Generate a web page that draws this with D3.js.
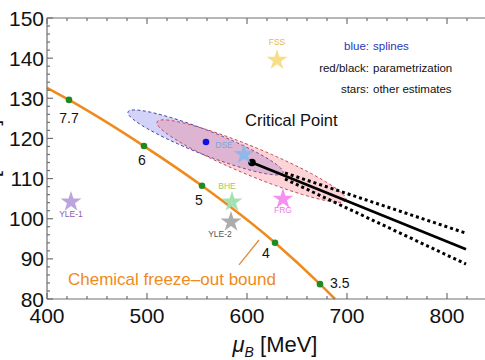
<!DOCTYPE html>
<html>
<head>
<meta charset="utf-8">
<script src="https://cdn.jsdelivr.net/npm/d3@7"></script>
<style>
  body { margin: 0; background: #fff; }
  svg { display: block; }
  text { font-family: 'Liberation Sans', Arial, sans-serif; }
</style>
</head>
<body>
<div id="chart"></div>
<script>
// chemical freeze-out curve (muB, T) and the sqrt(s) points on it
const freezeOut = [[400, 132.6], [422, 129.6], [497, 118.1], [555, 108.2], [628, 94.0], [673, 83.7], [688, 80.0]]
const energyPoints = [[422, 129.6], [497, 118.1], [555, 108.2], [628, 94.0], [673, 83.7]]
const energyLabels = ['7.7', '6', '5', '4', '3.5']

// critical point estimates
const splineCP = [559, 119.1]
const paramCP = [605, 114.0]
// ellipses: two ends of the major axis and the half width (MeV in T)
const splineEllipse = { ends: [[481, 126.6], [636, 111.4]], halfWidth: 3.0 }
const paramEllipse = { ends: [[510, 124.1], [699, 104.6]], halfWidth: 3.5 }

// first order line and its band
const transitionLine = [[605, 114.0], [819, 92.4]]
const bandUpper = [[638, 111.4], [819, 96.4]]
const bandLower = [[638, 109.9], [819, 88.7]]

// other estimates (stars)
const starNames = ['FSS', 'DSE', 'BHE', 'YLE-2', 'FRG', 'YLE-1']
const starMu = [630, 597, 585, 584, 636, 424]
const starT = [139.5, 116.0, 104.2, 99.2, 104.9, 104.2]
const starColors = ['#f7dc82', '#8bb8ec', '#9fe0b0', '#a8a8a8', '#f48cf0', '#b8a0dc']
const starTextColors = ['#e6b84a', '#7aa8dc', '#9ccc6a', '#555555', '#ec7ce0', '#8a5cb0']

const xTicks = [400, 500, 600, 700, 800]
const yTicks = [80, 90, 100, 110, 120, 130, 140, 150]

const width = 485
const height = 360
const margin = { left: 47, top: 18, bottom: 61 }

const svg = d3.select('#chart').append('svg')
  .attr('width', width)
  .attr('height', height)

const x = d3.scaleLinear().domain([400, 840]).range([margin.left, margin.left + 440])
const y = d3.scaleLinear().domain([80, 150]).range([height - margin.bottom, margin.top])

/**
 * Builds the outline of an ellipse given in data space.
 *
 * @param {object} e The ellipse description
 * @returns {number[][]} The outline in pixels
 */
function ellipsePoints (e) {
  const p1 = [x(e.ends[0][0]), y(e.ends[0][1])]
  const p2 = [x(e.ends[1][0]), y(e.ends[1][1])]
  const cx = (p1[0] + p2[0]) / 2
  const cy = (p1[1] + p2[1]) / 2
  const a = Math.hypot(p2[0] - p1[0], p2[1] - p1[1]) / 2
  const ang = Math.atan2(p2[1] - p1[1], p2[0] - p1[0])
  const b = Math.abs(y(100 + e.halfWidth) - y(100))
  return d3.range(0, 2 * Math.PI, Math.PI / 60).map(t => [
    cx + a * Math.cos(t) * Math.cos(ang) - b * Math.sin(t) * Math.sin(ang),
    cy + a * Math.cos(t) * Math.sin(ang) + b * Math.sin(t) * Math.cos(ang)
  ])
}

const g = svg.append('g')

// ellipses
g.append('path')
  .attr('d', d3.line().curve(d3.curveLinearClosed)(ellipsePoints(splineEllipse)))
  .attr('fill', 'rgba(110,110,235,0.3)')
  .attr('stroke', '#3c3ca0')
  .attr('stroke-width', 1)
  .attr('stroke-dasharray', '3,2.5')

g.append('path')
  .attr('d', d3.line().curve(d3.curveLinearClosed)(ellipsePoints(paramEllipse)))
  .attr('fill', 'rgba(245,110,120,0.3)')
  .attr('stroke', '#c04858')
  .attr('stroke-width', 1)
  .attr('stroke-dasharray', '3,2.5')

const line = d3.line().x(d => x(d[0])).y(d => y(d[1]))

// freeze-out curve
g.append('path')
  .attr('d', line.curve(d3.curveMonotoneX)(freezeOut))
  .attr('fill', 'none')
  .attr('stroke', '#ef8a1c')
  .attr('stroke-width', 2.6)
line.curve(d3.curveLinear)

g.selectAll('.energy')
  .data(energyPoints)
  .join('circle')
  .attr('class', 'energy')
  .attr('cx', d => x(d[0]))
  .attr('cy', d => y(d[1]))
  .attr('r', 3.3)
  .attr('fill', '#1f8a24')

const labelOffsets = [[0, 23], [-2, 19], [-3, 19], [-9, 15], [10, 4]]
g.selectAll('.energy-label')
  .data(energyPoints)
  .join('text')
  .attr('class', 'energy-label')
  .attr('x', (d, i) => x(d[0]) + labelOffsets[i][0])
  .attr('y', (d, i) => y(d[1]) + labelOffsets[i][1])
  .attr('text-anchor', (d, i) => i === 4 ? 'start' : 'middle')
  .attr('font-size', 14)
  .attr('fill', '#111')
  .text((d, i) => energyLabels[i])

// first order line with band
g.append('path')
  .attr('d', line(transitionLine))
  .attr('fill', 'none')
  .attr('stroke', '#000')
  .attr('stroke-width', 2.8)

;[bandUpper, bandLower].forEach(b => {
  g.append('path')
    .attr('d', line(b))
    .attr('fill', 'none')
    .attr('stroke', '#000')
    .attr('stroke-width', 3)
    .attr('stroke-dasharray', '3,3')
})

g.append('circle')
  .attr('cx', x(paramCP[0]))
  .attr('cy', y(paramCP[1]))
  .attr('r', 3.8)
  .attr('fill', '#000')

g.append('circle')
  .attr('cx', x(splineCP[0]))
  .attr('cy', y(splineCP[1]))
  .attr('r', 3.3)
  .attr('fill', '#1010e0')

// stars
const star = d3.symbol().type(d3.symbolStar).size(135)
const starLabelDy = [-15, -6, -13, 15, 14, 15]
const starLabelDx = [0, -20, -5, -11, 0, 0]
starNames.forEach((name, i) => {
  g.append('path')
    .attr('d', star())
    .attr('transform', 'translate(' + x(starMu[i]) + ',' + y(starT[i]) + ')')
    .attr('fill', starColors[i])
    .attr('opacity', 0.95)
  g.append('text')
    .attr('x', x(starMu[i]) + starLabelDx[i])
    .attr('y', y(starT[i]) + starLabelDy[i])
    .attr('text-anchor', 'middle')
    .attr('font-size', 8.5)
    .attr('fill', starTextColors[i])
    .text(name)
})

// annotations
g.append('text')
  .attr('x', x(598))
  .attr('y', y(123.1))
  .attr('font-size', 16.5)
  .attr('fill', '#111')
  .text('Critical Point')

g.append('text')
  .attr('x', x(421))
  .attr('y', y(83.5))
  .attr('font-size', 17)
  .attr('fill', '#ef8a1c')
  .text('Chemical freeze\u2013out bound')

g.append('path')
  .attr('d', line([[592, 88.5], [612, 94.7]]))
  .attr('stroke', '#e08a3c')
  .attr('stroke-width', 1.3)

const legend = [['blue:', 'splines', '#2b36b8'], ['red/black:', 'parametrization', '#111'], ['stars:', 'other estimates', '#111']]
legend.forEach((l, i) => {
  const ly = 50 + i * 21.5
  g.append('text').attr('x', 369).attr('y', ly).attr('text-anchor', 'end')
    .attr('font-size', 11.5).attr('fill', l[2]).text(l[0])
  g.append('text').attr('x', 373).attr('y', ly)
    .attr('font-size', 11.5).attr('fill', l[2]).text(l[1])
})

// frame and ticks
const frame = svg.append('g').attr('stroke', '#707070').attr('stroke-width', 1.2)
const x0 = x.range()[0]
const x1 = x.range()[1]
const yb = y.range()[0]
const yt = y.range()[1]
frame.append('line').attr('x1', x0).attr('x2', x1).attr('y1', yb).attr('y2', yb)
frame.append('line').attr('x1', x0).attr('x2', x1).attr('y1', yt).attr('y2', yt)
frame.append('line').attr('x1', x0).attr('x2', x0).attr('y1', yb).attr('y2', yt)

d3.range(400, 841, 20).forEach(v => {
  const len = v % 100 === 0 ? 6 : 3
  frame.append('line').attr('x1', x(v)).attr('x2', x(v)).attr('y1', yb).attr('y2', yb - len)
  frame.append('line').attr('x1', x(v)).attr('x2', x(v)).attr('y1', yt).attr('y2', yt + len)
})
d3.range(80, 151, 2).forEach(v => {
  const len = v % 10 === 0 ? 6 : 3
  frame.append('line').attr('x1', x0).attr('x2', x0 + len).attr('y1', y(v)).attr('y2', y(v))
})

svg.selectAll('.xtick')
  .data(xTicks)
  .join('text')
  .attr('class', 'xtick')
  .attr('x', d => x(d))
  .attr('y', 323)
  .attr('text-anchor', 'middle')
  .attr('font-size', 21)
  .attr('fill', '#111')
  .text(d => d)

svg.selectAll('.ytick')
  .data(yTicks)
  .join('text')
  .attr('class', 'ytick')
  .attr('x', 44)
  .attr('y', d => y(d) + 7.5)
  .attr('text-anchor', 'end')
  .attr('font-size', 21)
  .attr('fill', '#111')
  .text(d => d)

const xl = svg.append('text')
  .attr('x', 275)
  .attr('y', 352)
  .attr('text-anchor', 'middle')
  .attr('font-size', 22)
  .attr('fill', '#111')
xl.append('tspan').attr('font-style', 'italic').text('\u03bc')
xl.append('tspan').attr('font-style', 'italic').attr('font-size', 14).attr('dy', 5).text('B')
xl.append('tspan').attr('dy', -5).text(' [MeV]')

svg.append('text')
  .attr('transform', 'translate(-2,158) rotate(-90)')
  .attr('text-anchor', 'middle')
  .attr('font-size', 22)
  .attr('fill', '#111')
  .text('T [MeV]')
</script>
</body>
</html>
